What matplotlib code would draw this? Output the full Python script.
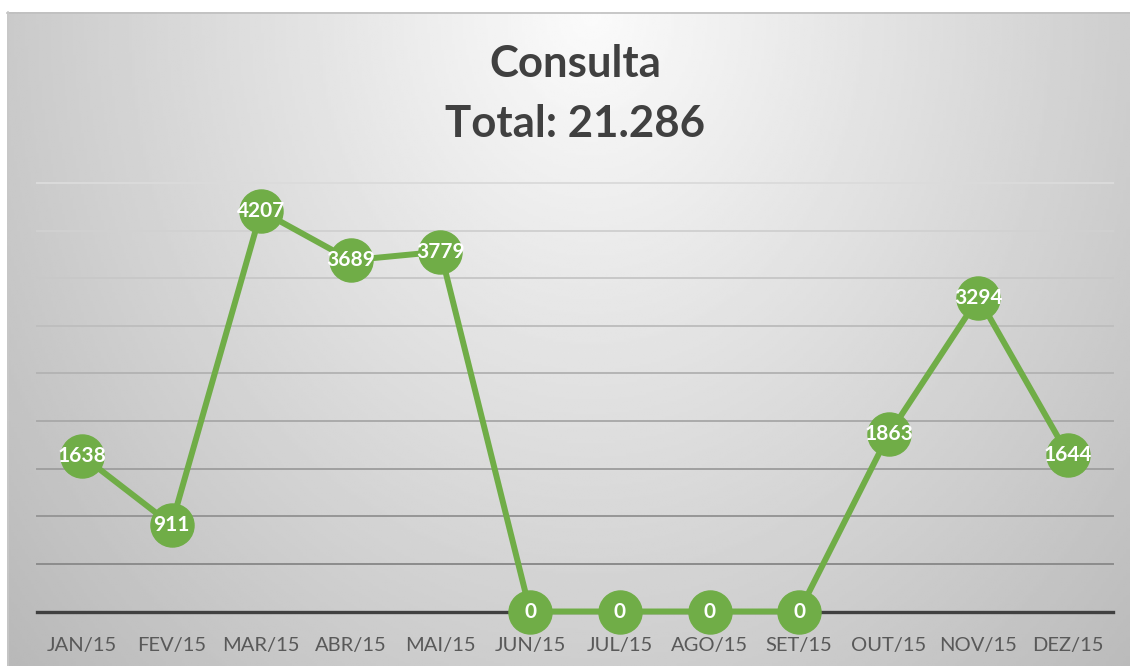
import numpy as np
import matplotlib
matplotlib.use("Agg")
import matplotlib.pyplot as plt

plt.rcParams['font.family'] = ['Lato', 'DejaVu Sans']

meses = ['JAN/15', 'FEV/15', 'MAR/15', 'ABR/15', 'MAI/15', 'JUN/15',
         'JUL/15', 'AGO/15', 'SET/15', 'OUT/15', 'NOV/15', 'DEZ/15']
consultas = [1638, 911, 4207, 3689, 3779, 0, 0, 0, 0, 1863, 3294, 1644]
titulo = 'Consulta\nTotal: 21.286'
yticks = np.arange(0, 4501, 500)

W, H = 1130, 666
fig = plt.figure(figsize=(W / 100, H / 100), dpi=100, facecolor='white')

# fundo com gradiente
bg = fig.add_axes([7 / W, 0, (W - 7) / W, (H - 12) / H])
bg.set_axis_off()
gx, gy = np.meshgrid(np.linspace(0, 1, 400), np.linspace(0, 1, 300))
d = np.sqrt(((gx - 0.52) / 0.55) ** 2 + (gy / 1.15) ** 2)
col = np.clip(251 - 52 * d, 185, 251) / 255.0
bg.imshow(col, cmap='gray', vmin=0, vmax=1, aspect='auto', extent=[0, 1, 1, 0])
bg.set_xlim(0, 1)
bg.set_ylim(1, 0)
bg.plot([0, 1], [0.002, 0.002], color='#bfbfbf', lw=1.2, clip_on=False)
bg.plot([0.001, 0.001], [0, 1], color='#c8c8c8', lw=1.2, clip_on=False)

x0, x1 = 37, 1113
y0, y1 = 611.5, 183
ax = fig.add_axes([x0 / W, (H - y0) / H, (x1 - x0) / W, (y0 - y1) / H])
ax.patch.set_alpha(0)
x = np.arange(len(meses))
ax.set_xlim(-0.5, len(meses) - 0.5)
ax.set_ylim(0, 4500)

# linhas de grade (mais escuras em baixo)
for i, t in enumerate(yticks[1:]):
    f = i / (len(yticks) - 2)
    g = 0.55 + 0.31 * f
    ax.axhline(t, color=(g, g, g), lw=1.4, zorder=1, clip_on=False)
ax.axhline(0, color='#404040', lw=2.4, zorder=2, clip_on=False)

ax.plot(x, consultas, color='#70AD47', lw=4.3, marker='o', markersize=31,
        zorder=3, clip_on=False)
for xi, v in zip(x, consultas):
    ax.text(xi, v, str(v), ha='center', va='center', color='white',
            fontsize=15, fontweight='bold', zorder=4)

for s in ax.spines.values():
    s.set_visible(False)
ax.set_yticks([])
ax.set_xticks(x)
ax.set_xticklabels(meses, fontsize=14.5, color='#595959')
ax.tick_params(axis='x', length=0, pad=18)

fig.text(575 / W, 1 - 94 / H, titulo, ha='center', va='center',
         fontsize=31.5, fontweight='bold', color='#404040', linespacing=1.62)

fig.savefig('out.png', dpi=100, facecolor='white')
